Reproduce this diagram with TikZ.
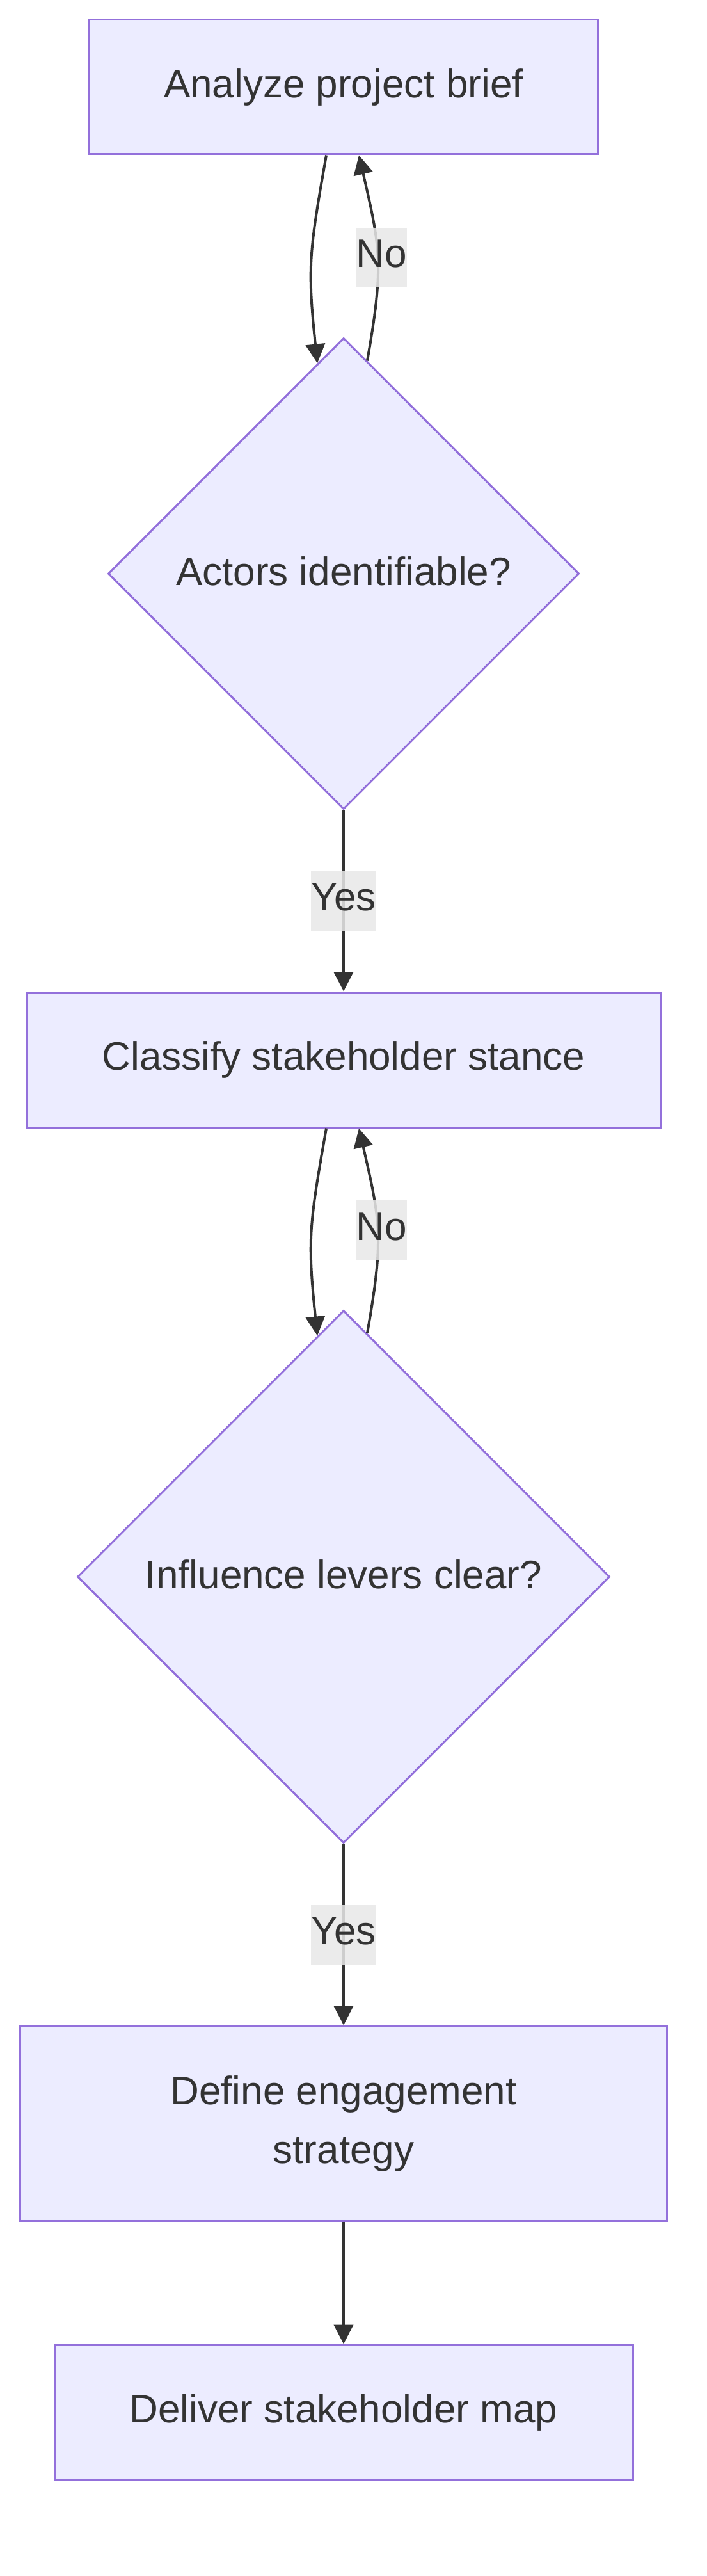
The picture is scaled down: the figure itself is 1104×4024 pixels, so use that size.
\documentclass[tikz,border=0pt]{standalone}
\usepackage{fontspec}
\setmainfont{Liberation Sans}
\usetikzlibrary{shapes.geometric,arrows.meta}
\definecolor{boxfill}{HTML}{ECECFF}
\definecolor{boxline}{HTML}{9370DB}
\definecolor{ink}{HTML}{333333}
\definecolor{lblfill}{HTML}{E8E8E8}
\begin{document}
\begin{tikzpicture}[x=0.5pt, y=-0.5pt,
  txt/.style={font=\fontsize{31}{46}\selectfont, text=ink},
  proc/.style={txt, rectangle, draw=boxline, fill=boxfill, line width=1.5pt, align=center},
  dec/.style={txt, diamond, aspect=1, draw=boxline, fill=boxfill, line width=1.5pt, inner sep=0pt, text depth=4pt},
  lbl/.style={txt, fill=lblfill, fill opacity=0.85, text opacity=1, inner xsep=0pt, inner ysep=0pt, text depth=6pt, minimum height=46.5pt},
  arr/.style={draw=ink, line width=2pt, -{Triangle[length=15pt,width=15pt]}}]
\useasboundingbox (0,0) rectangle (1104,4024);
% steps
\node[proc, minimum width=397.5pt, minimum height=105pt] (brief) at (537,136) {Analyze project brief};
\node[dec, minimum width=368pt, minimum height=368pt] (actors) at (537,896) {Actors identifiable?};
\node[proc, minimum width=495.5pt, minimum height=105.5pt] (classify) at (537,1655.5) {Classify stakeholder stance};
\node[dec, minimum width=416pt, minimum height=416pt] (levers) at (537,2463) {Influence levers clear?};
\node[proc, minimum width=505.5pt, minimum height=152pt] (strategy) at (537,3317) {Define engagement\\strategy};
\node[proc, minimum width=452pt, minimum height=105pt] (deliver) at (537,3768) {Deliver stakeholder map};
% edges
\draw[arr] ([xshift=-13.5pt]brief.south) to[out=260, in=96, looseness=1.2] ([xshift=-20.5pt,yshift=-20.5pt]actors.north);
\draw[arr] ([xshift=18.5pt,yshift=-18.5pt]actors.north) to[out=80, in=283, looseness=1.2]
  node[lbl, pos=0.5, xshift=3pt] (no1) {No} ([xshift=12pt]brief.south);
\draw[arr] (actors.south) -- node[lbl] (yes1) {Yes} (classify.north);
\draw[arr] ([xshift=-13.5pt]classify.south) to[out=260, in=96, looseness=1.2] ([xshift=-20.5pt,yshift=-20.5pt]levers.north);
\draw[arr] ([xshift=18.5pt,yshift=-18.5pt]levers.north) to[out=80, in=283, looseness=1.2]
  node[lbl, pos=0.5, xshift=3pt] (no2) {No} ([xshift=12pt]classify.south);
\draw[arr] (levers.south) -- node[lbl] (yes2) {Yes} (strategy.north);
\draw[arr] (strategy) -- (deliver);
\end{tikzpicture}
\end{document}
